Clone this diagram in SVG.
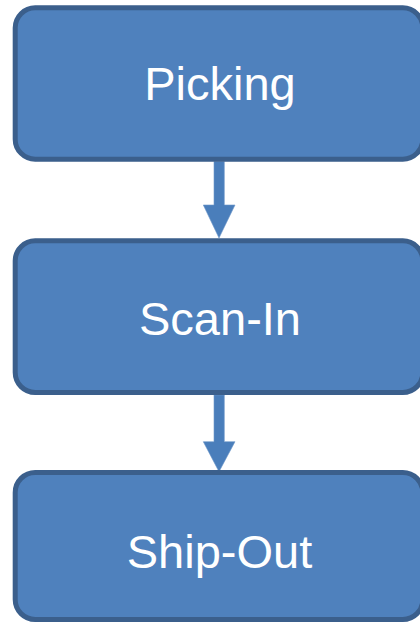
<svg xmlns="http://www.w3.org/2000/svg" width="420" height="622" viewBox="0 0 420 622">
<style>
.box{fill:#4f81bd;stroke:#3b5f8c;stroke-width:5}
.lbl{font-family:"Liberation Sans",Arial,Helvetica,sans-serif;font-size:47px;fill:#ffffff;text-anchor:middle}
.arr{fill:#4a7ebb;stroke:#6d97c9;stroke-width:0.6}
</style>
<rect width="420" height="622" fill="#ffffff"/>
<g id="connectors">
<polygon class="arr" points="214,161.5 224.3,161.5 224.3,205 235,205 219,238 203.3,205 214,205"/>
<polygon class="arr" points="214,395 224.3,395 224.3,441.7 235,441.7 219,471.7 203.3,441.7 214,441.7"/>
</g>
<g id="node-picking">
<rect class="box" x="15.2" y="7.8" width="407.6" height="151.4" rx="20" ry="20"/>
<text class="lbl" x="220" y="100">Picking</text>
</g>
<g id="node-scanin">
<rect class="box" x="15.2" y="240.8" width="407.6" height="151.7" rx="20" ry="20"/>
<text class="lbl" x="220" y="335">Scan-In</text>
</g>
<g id="node-shipout">
<rect class="box" x="15.2" y="472.5" width="407.6" height="147" rx="20" ry="20"/>
<text class="lbl" x="219.5" y="568">Ship-Out</text>
</g>
</svg>
